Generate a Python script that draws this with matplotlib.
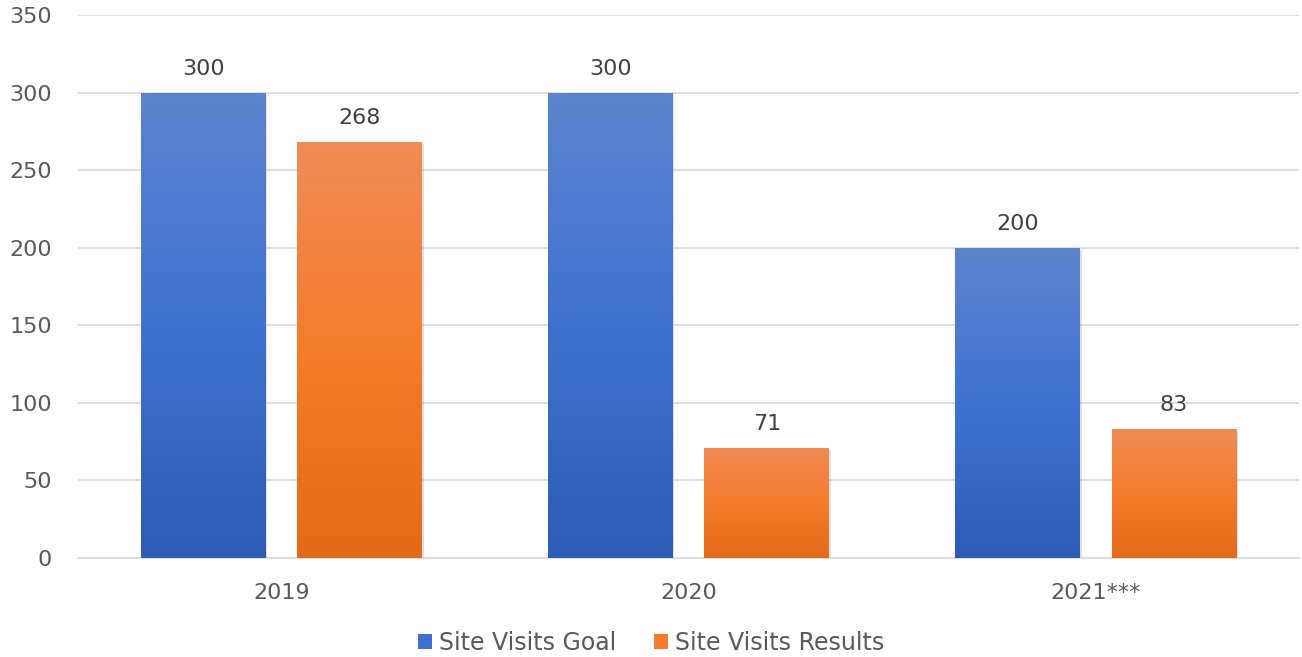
import numpy as np
import matplotlib.pyplot as plt
import matplotlib.colors as mcolors
import matplotlib.patheffects as pe
from matplotlib.patches import Patch

# Chart data
years = ["2019", "2020", "2021***"]
goal = [300, 300, 200]
results = [268, 71, 83]
series_names = ["Site Visits Goal", "Site Visits Results"]

# Gradient colours (top, middle, bottom) for each series
blue_grad = ["#5D84CD", "#3F72D0", "#2D5CB6"]
orange_grad = ["#F08C57", "#F57C2C", "#E36A18"]

plt.rcParams['font.family'] = ['DejaVu Sans']
fs = 16

fig = plt.figure(figsize=(13.02, 6.57), dpi=100)
ax = fig.add_axes([0.06, 0.1507, 0.938, 0.8265])

x = np.arange(len(years))
width = 0.307
offset = 0.192


def gradient_bars(bars, cols):
    cmap = mcolors.LinearSegmentedColormap.from_list("g", cols[::-1])
    grad = np.linspace(0, 1, 256).reshape(-1, 1)
    for b in bars:
        x0, y0 = b.get_x(), b.get_y()
        w, h = b.get_width(), b.get_height()
        im = ax.imshow(grad, cmap=cmap, aspect='auto', origin='lower',
                       extent=[x0, x0 + w, y0, y0 + h], zorder=3)
        im.set_clip_path(b)


shadow = [pe.SimplePatchShadow(offset=(1, -1.5), shadow_rgbFace='#999999', alpha=0.3), pe.Normal()]

b1 = ax.bar(x - offset, goal, width, color=blue_grad[1], zorder=2, path_effects=shadow)
b2 = ax.bar(x + offset, results, width, color=orange_grad[1], zorder=2, path_effects=shadow)
gradient_bars(b1, blue_grad)
gradient_bars(b2, orange_grad)

# Value labels above bars
for bars, vals in [(b1, goal), (b2, results)]:
    for b, v in zip(bars, vals):
        ax.annotate(str(v), (b.get_x() + b.get_width() / 2, v), xytext=(0, 10),
                    textcoords='offset points', ha='center', va='bottom',
                    fontsize=fs, color='#404040')

ax.set_xlim(-0.5, 2.5)
ax.set_ylim(0, 350)
ax.set_yticks(range(0, 351, 50))
ax.set_xticks(x)
ax.set_xticklabels(years)
ax.yaxis.grid(True, color='#D9D9D9', linewidth=1.2)
ax.set_axisbelow(True)
for s in ['top', 'right', 'left']:
    ax.spines[s].set_visible(False)
ax.spines['bottom'].set_color('#D9D9D9')
ax.spines['bottom'].set_linewidth(1.2)
ax.tick_params(axis='both', length=0, labelsize=fs, labelcolor='#595959')
ax.tick_params(axis='y', pad=19)
ax.tick_params(axis='x', pad=18)

handles = [Patch(facecolor=blue_grad[1], edgecolor='none'),
           Patch(facecolor=orange_grad[1], edgecolor='none')]
leg = fig.legend(handles, series_names, loc='center', bbox_to_anchor=(0.5, 0.021),
                 ncol=2, frameon=False, fontsize=17, handlelength=0.6, handleheight=0.6,
                 handletextpad=0.3, columnspacing=1.6)
for t in leg.get_texts():
    t.set_color('#595959')

fig.savefig("out.png", dpi=100)
